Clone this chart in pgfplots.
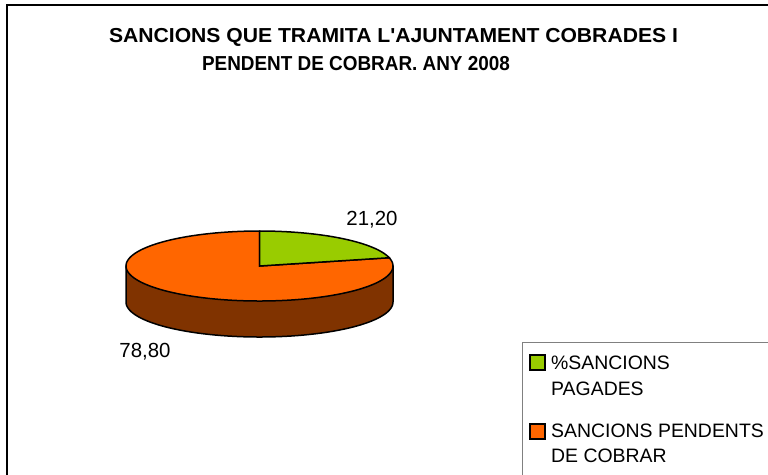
\documentclass[border=0pt]{standalone}
\usepackage{fontspec}
\setmainfont{Liberation Sans}
\usepackage{pgfplots}
\pgfplotsset{compat=1.18}
\definecolor{pgreen}{RGB}{153,204,0}
\definecolor{porange}{RGB}{255,102,0}
\definecolor{pside}{RGB}{128,51,0}
\definecolor{lgray}{RGB}{128,128,128}
% data (percent)
\def\valA{21.20}% %SANCIONS PAGADES
\def\valB{78.80}% SANCIONS PENDENTS DE COBRAR
% pie geometry in pixel units
\def\cx{259.5}\def\cy{266}\def\rx{133.5}\def\ry{35}\def\dd{36}
\begin{document}
\begin{tikzpicture}
\useasboundingbox (0,0) rectangle (768bp,-475bp);
\pgfmathsetmacro{\angA}{90-\valA*3.6}
\pgfmathsetmacro{\angB}{\angA-\valB*3.6}
\begin{axis}[at={(0,0)}, anchor=north west, width=768bp, height=475bp,
  scale only axis, hide axis, xmin=0, xmax=768, ymin=0, ymax=475,
  y dir=reverse, clip=false]
% side of the pie
\addplot[fill=pside, draw=black, line width=1.5bp, domain=180:360, samples=120, variable=\t]
  ({\cx+\rx*cos(\t)},{\cy+\dd-\ry*sin(\t)}) -- (\cx+\rx,\cy) -- (\cx-\rx,\cy) -- cycle;
% orange slice
\addplot[fill=porange, draw=black, line width=1.5bp, domain=\angB:\angA, samples=200, variable=\t]
  ({\cx+\rx*cos(\t)},{\cy-\ry*sin(\t)}) -- (\cx,\cy) -- cycle;
% green slice
\addplot[fill=pgreen, draw=black, line width=1.5bp, domain=\angA:90, samples=80, variable=\t]
  ({\cx+\rx*cos(\t)},{\cy-\ry*sin(\t)}) -- (\cx,\cy) -- cycle;
% data labels
\node[anchor=base, inner sep=0, font=\fontsize{20.5}{24}\selectfont] at (372,225.3) {21,20};
\node[anchor=base, inner sep=0, font=\fontsize{20.5}{24}\selectfont] at (145,357) {78,80};
% title
\node[anchor=base, inner sep=0, font=\fontsize{20.3}{24}\selectfont\bfseries] at (393.5,42.5) {\scalebox{1.045}[1]{SANCIONS QUE TRAMITA L\textquotesingle AJUNTAMENT COBRADES I}};
\node[anchor=base, inner sep=0, font=\fontsize{20.3}{24}\selectfont\bfseries] at (356,70.5) {\scalebox{0.935}[1]{PENDENT DE COBRAR. ANY 2008}};
% outer frame
\draw[line width=2bp] (6.5,480) -- (6.5,5) -- (772,5);
% legend
\draw[lgray, line width=1bp] (522.5,480) -- (522.5,342.5) -- (772,342.5);
\draw[fill=pgreen, line width=1.3bp] (530,355) rectangle (545,370);
\draw[fill=porange, line width=1.3bp] (530,424) rectangle (545,439);
\begin{scope}[every node/.style={anchor=base west, inner sep=0, font=\fontsize{19.5}{24}\selectfont}]
\node at (551,369) {\%SANCIONS};
\node at (551,395) {PAGADES};
\node at (551,437) {SANCIONS PENDENTS};
\node at (551,462) {DE COBRAR};
\end{scope}
\end{axis}
\end{tikzpicture}
\end{document}
